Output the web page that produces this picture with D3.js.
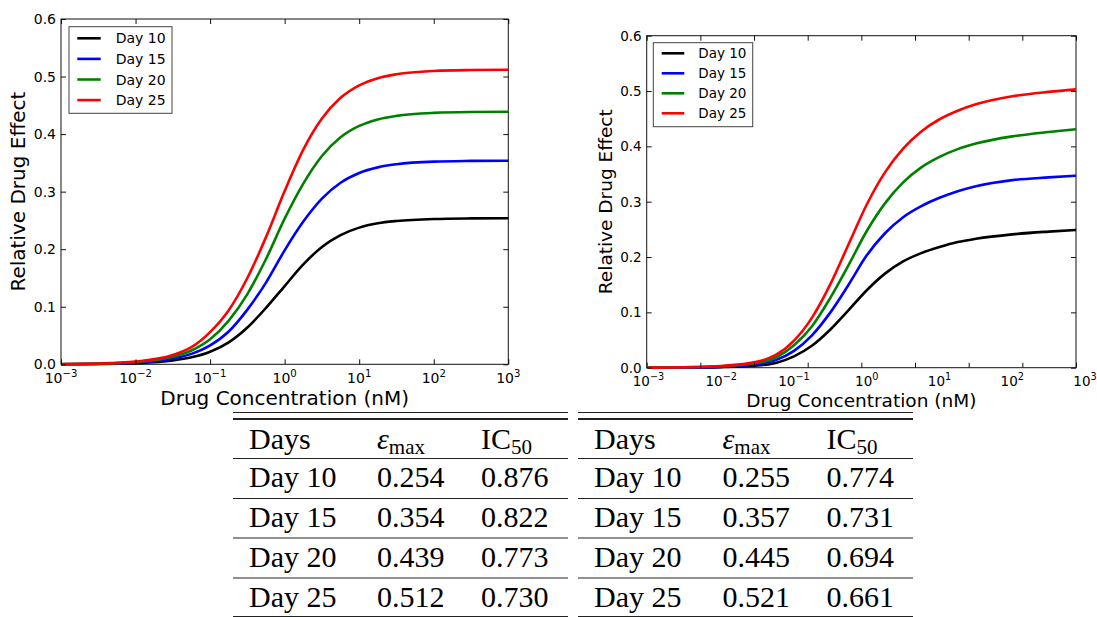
<!DOCTYPE html>
<html>
<head>
<meta charset="utf-8">
<script src="https://cdn.jsdelivr.net/npm/d3@7.9.0/dist/d3.min.js"></script>
<style>
  html, body { margin: 0; padding: 0; background: #fff; }
  svg { display: block; }
</style>
</head>
<body>
<svg id="chart" width="1097" height="617"></svg>
<script>
// ---- data ----
const days = ['Day 10', 'Day 15', 'Day 20', 'Day 25'];
const colors = ['#000000', '#0000ff', '#008000', '#ff0000'];

// left panel: log10 of concentration (nM) and effect per day
const leftLogConc = [-3, -2.5, -2, -1.5, -1.25, -1, -0.75, -0.5, -0.25, 0, 0.25, 0.5, 0.75, 1, 1.25, 1.5, 2, 2.5, 3];
const leftDay10 = [0.0002, 0.0005, 0.0019, 0.0066, 0.0121, 0.0218, 0.0382, 0.0640, 0.0980, 0.1360, 0.1735, 0.2040, 0.2245, 0.2375, 0.2450, 0.2490, 0.2525, 0.2535, 0.2538];
const leftDay15 = [0.0002, 0.0008, 0.0029, 0.0099, 0.0181, 0.0328, 0.0570, 0.0950, 0.1420, 0.1980, 0.2480, 0.2880, 0.3155, 0.3325, 0.3422, 0.3476, 0.3522, 0.3534, 0.3538];
const leftDay20 = [0.0003, 0.0011, 0.0038, 0.0131, 0.0240, 0.0435, 0.0760, 0.1220, 0.1830, 0.2530, 0.3140, 0.3620, 0.3945, 0.4142, 0.4255, 0.4317, 0.4369, 0.4384, 0.4388];
const leftDay25 = [0.0004, 0.0014, 0.0047, 0.0162, 0.0298, 0.0560, 0.0940, 0.1500, 0.2210, 0.3010, 0.3730, 0.4270, 0.4630, 0.4848, 0.4972, 0.5040, 0.5097, 0.5113, 0.5118];

// right panel
const rightLogConc = [-3, -2.5, -2, -1.5, -1.25, -1, -0.75, -0.5, -0.25, 0, 0.25, 0.5, 0.75, 1, 1.25, 1.5, 2, 2.5, 2.876];
const rightDay10 = [0.0001, 0.0003, 0.0011, 0.0040, 0.0087, 0.0205, 0.0400, 0.0690, 0.1040, 0.1400, 0.1700, 0.1920, 0.2070, 0.2180, 0.2270, 0.2330, 0.2410, 0.2460, 0.2490];
const rightDay15 = [0.0001, 0.0005, 0.0018, 0.0065, 0.0140, 0.0305, 0.0590, 0.1000, 0.1500, 0.2030, 0.2430, 0.2720, 0.2920, 0.3070, 0.3190, 0.3280, 0.3390, 0.3440, 0.3470];
const rightDay20 = [0.0002, 0.0007, 0.0025, 0.0088, 0.0185, 0.0405, 0.0755, 0.1265, 0.1855, 0.2470, 0.2970, 0.3350, 0.3620, 0.3810, 0.3950, 0.4050, 0.4180, 0.4260, 0.4310];
const rightDay25 = [0.0002, 0.0009, 0.0031, 0.0110, 0.0230, 0.0490, 0.0910, 0.1510, 0.2230, 0.2950, 0.3530, 0.3960, 0.4270, 0.4490, 0.4645, 0.4760, 0.4905, 0.4985, 0.5030];

// axis ticks
const yTicks = [0, 0.1, 0.2, 0.3, 0.4, 0.5, 0.6];
const decadeExps = [-3, -2, -1, 0, 1, 2, 3];
const rightLogDomain = [-3.025, 2.876]; // right panel frame runs a bit off the decade labels
const rightTickCount = 9;

// tables
const leftEmax = [0.254, 0.354, 0.439, 0.512];
const leftIC50 = [0.876, 0.822, 0.773, 0.730];
const rightEmax = [0.255, 0.357, 0.445, 0.521];
const rightIC50 = [0.774, 0.731, 0.694, 0.661];

const svg = d3.select('#chart');
svg.append('rect').attr('width', 1097).attr('height', 617).attr('fill', '#fff');

const fmt1 = d3.format('.1f');
const fmt3 = d3.format('.3f');

function drawPanel(p) {
  const g = svg.append('g');
  const x = d3.scaleLog().domain(p.xDomain).range([p.left, p.right]);
  const y = d3.scaleLinear().domain([0, 0.6]).range([p.bottom, p.top]);

  // frame
  g.append('rect')
    .attr('x', p.left).attr('y', p.top)
    .attr('width', p.right - p.left).attr('height', p.bottom - p.top)
    .attr('fill', 'none').attr('stroke', '#111').attr('stroke-width', 1);

  // curves
  const line = d3.line()
    .x(d => x(10 ** d[0]))
    .y(d => y(d[1]))
    .curve(d3.curveMonotoneX);
  p.series.forEach((s, i) => {
    g.append('path')
      .datum(p.logConc.map((e, j) => [e, s[j]]))
      .attr('d', line)
      .attr('fill', 'none')
      .attr('stroke', colors[i])
      .attr('stroke-width', 2.6);
  });

  // inward ticks on all four sides
  const noDomain = a => { a.select('.domain').remove(); a.selectAll('line').attr('stroke', '#111'); };
  g.append('g').attr('transform', `translate(0,${p.bottom})`)
    .call(d3.axisBottom(x).tickValues(p.xTicks).tickSize(-5).tickFormat('')).call(noDomain);
  g.append('g').attr('transform', `translate(0,${p.top})`)
    .call(d3.axisTop(x).tickValues(p.xTicks).tickSize(-5).tickFormat('')).call(noDomain);
  g.append('g').attr('transform', `translate(${p.left},0)`)
    .call(d3.axisLeft(y).tickValues(yTicks).tickSize(-5).tickFormat('')).call(noDomain);
  g.append('g').attr('transform', `translate(${p.right},0)`)
    .call(d3.axisRight(y).tickValues(yTicks).tickSize(-5).tickFormat('')).call(noDomain);

  // y tick labels
  g.selectAll('.ylab').data(yTicks).join('text')
    .attr('x', p.left - 5).attr('y', d => y(d) + p.tickFont * 0.36)
    .attr('text-anchor', 'end')
    .attr('font-family', 'DejaVu Sans').attr('font-size', p.tickFont)
    .attr('fill', '#000')
    .text(d => fmt1(d));

  // x tick labels (10^k)
  decadeExps.forEach(k => {
    const t = g.append('text')
      .attr('x', x(10 ** k)).attr('y', p.bottom + p.xLabOffset)
      .attr('text-anchor', 'middle')
      .attr('font-family', 'DejaVu Sans').attr('font-size', p.tickFont)
      .attr('fill', '#000');
    t.append('tspan').text('10');
    t.append('tspan').attr('dy', -6).attr('font-size', p.tickFont * 0.72)
      .text(k < 0 ? '\u2212' + (-k) : String(k));
  });

  // axis titles
  g.append('text')
    .attr('x', (p.left + p.right) / 2).attr('y', p.xTitleY)
    .attr('text-anchor', 'middle')
    .attr('font-family', 'DejaVu Sans').attr('font-size', p.titleFont)
    .text('Drug Concentration (nM)');
  g.append('text')
    .attr('transform', `translate(${p.yTitleX},${(p.top + p.bottom) / 2}) rotate(-90)`)
    .attr('text-anchor', 'middle').attr('dominant-baseline', 'central')
    .attr('font-family', 'DejaVu Sans').attr('font-size', p.titleFont)
    .text('Relative Drug Effect');

  // legend
  const L = p.legend;
  g.append('rect')
    .attr('x', L.x).attr('y', L.y).attr('width', L.w).attr('height', L.h)
    .attr('fill', '#fff').attr('stroke', '#444').attr('stroke-width', 1);
  days.forEach((d, i) => {
    const ly = L.y0 + i * L.step;
    g.append('line')
      .attr('x1', L.lx1).attr('x2', L.lx2).attr('y1', ly).attr('y2', ly)
      .attr('stroke', colors[i]).attr('stroke-width', 2.6);
    g.append('text')
      .attr('x', L.tx).attr('y', ly)
      .attr('dominant-baseline', 'central')
      .attr('font-family', 'DejaVu Sans').attr('font-size', L.font)
      .text(d);
  });
}

drawPanel({
  left: 61, right: 508.3, top: 19, bottom: 364.3,
  xDomain: [1e-3, 1e3],
  xTicks: decadeExps.map(k => 10 ** k),
  logConc: leftLogConc,
  series: [leftDay10, leftDay15, leftDay20, leftDay25],
  tickFont: 14, titleFont: 20, xLabOffset: 18.5, xTitleY: 404.5, yTitleX: 18,
  legend: { x: 69, y: 26.7, w: 103, h: 86.6, y0: 38.3, step: 20.6, lx1: 77.3, lx2: 100.7, tx: 115.7, font: 14 }
});

drawPanel({
  left: 646.7, right: 1076, top: 35.7, bottom: 367.7,
  xDomain: rightLogDomain.map(e => 10 ** e),
  xTicks: d3.range(rightTickCount).map(i =>
    10 ** (rightLogDomain[0] + i * (rightLogDomain[1] - rightLogDomain[0]) / (rightTickCount - 1))),
  logConc: rightLogConc,
  series: [rightDay10, rightDay15, rightDay20, rightDay25],
  tickFont: 13.5, titleFont: 18.5, xLabOffset: 18, xTitleY: 407, yTitleX: 605,
  legend: { x: 653.3, y: 42.7, w: 99.4, h: 84, y0: 53.3, step: 20, lx1: 661.7, lx2: 684.3, tx: 698.3, font: 13.5 }
});

// ---- parameter tables ----
function drawTable(t) {
  const g = svg.append('g').attr('font-family', 'Liberation Serif').attr('fill', '#000');
  const rule = (yy, w) => g.append('line')
    .attr('x1', t.x0).attr('x2', t.x1).attr('y1', yy).attr('y2', yy)
    .attr('stroke', '#222').attr('stroke-width', w);
  rule(412.5, 1);
  rule(419, 2);
  [458.5, 498.5, 538, 578, 616.5].forEach(yy => rule(yy, 1));

  // header
  const hy = 449;
  g.append('text').attr('x', t.cols[0]).attr('y', hy).attr('font-size', 30).text('Days');
  const e = g.append('text').attr('x', t.cols[1]).attr('y', hy).attr('font-size', 30);
  e.append('tspan').attr('font-style', 'italic').text('\u03b5');
  e.append('tspan').attr('dy', 5).attr('font-size', 21).text('max');
  const ic = g.append('text').attr('x', t.cols[2]).attr('y', hy).attr('font-size', 30);
  ic.append('tspan').text('IC');
  ic.append('tspan').attr('dy', 5).attr('font-size', 21).text('50');

  const rowY = [487, 527, 567, 607];
  days.forEach((d, i) => {
    g.append('text').attr('x', t.cols[0]).attr('y', rowY[i]).attr('font-size', 30).text(d);
    g.append('text').attr('x', t.cols[1]).attr('y', rowY[i]).attr('font-size', 30).text(fmt3(t.emax[i]));
    g.append('text').attr('x', t.cols[2]).attr('y', rowY[i]).attr('font-size', 30).text(fmt3(t.ic50[i]));
  });
}

drawTable({ x0: 233, x1: 568, cols: [249, 377, 481], emax: leftEmax, ic50: leftIC50 });
drawTable({ x0: 578, x1: 913, cols: [594, 722.5, 826.5], emax: rightEmax, ic50: rightIC50 });
</script>
</body>
</html>
